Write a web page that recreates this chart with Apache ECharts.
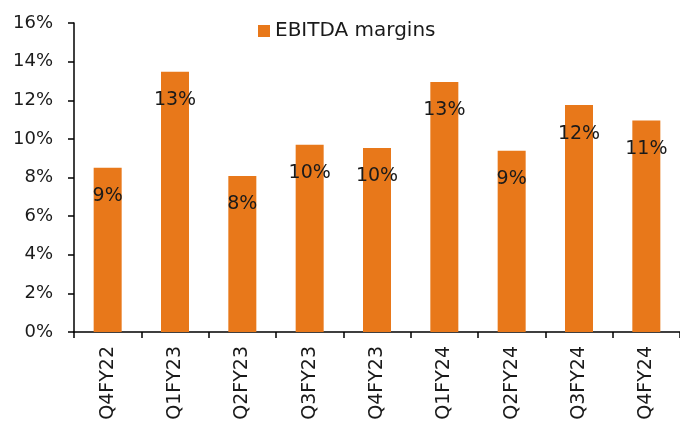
<!DOCTYPE html>
<html>
<head>
<meta charset="utf-8">
<script src="https://cdn.jsdelivr.net/npm/echarts@6/dist/echarts.min.js"></script>
<style>html,body{margin:0;padding:0;background:#fff}#c{width:680px;height:425px}</style>
</head>
<body>
<div id="c"></div>
<script>
var categories = ["Q4FY22","Q1FY23","Q2FY23","Q3FY23","Q4FY23","Q1FY24","Q2FY24","Q3FY24","Q4FY24"];
var ebitdaMargins = [8.5, 13.47, 8.08, 9.69, 9.53, 12.95, 9.38, 11.75, 10.95];
var seriesName = "EBITDA margins";

var FONT = "DejaVu Sans";
var chart = echarts.init(document.getElementById('c'), null, {renderer: 'canvas'});
chart.setOption({
  animation: false,
  textStyle: {fontFamily: FONT, color: '#1a1a1a'},
  legend: {
    data: [seriesName],
    top: 16,
    left: 253,
    itemWidth: 12,
    itemHeight: 12,
    itemGap: 7,
    icon: 'rect',
    textStyle: {fontFamily: FONT, fontSize: 20, color: '#1a1a1a'}
  },
  grid: {left: 74, right: 0, top: 23, bottom: 93, containLabel: false},
  xAxis: {
    type: 'category',
    data: categories,
    axisLine: {lineStyle: {color: '#000', width: 1.5}},
    axisTick: {show: true, alignWithLabel: false, length: 6, lineStyle: {color: '#000', width: 1.5}},
    axisLabel: {rotate: 90, margin: 14, fontSize: 19, color: '#1a1a1a', fontFamily: FONT}
  },
  yAxis: {
    type: 'value',
    min: 0, max: 16, interval: 2,
    splitLine: {show: false},
    axisLine: {show: true, lineStyle: {color: '#000', width: 1.5}},
    axisTick: {show: true, length: 6, lineStyle: {color: '#000', width: 1.5}},
    axisLabel: {formatter: '{value}%', fontSize: 18, margin: 21, color: '#1a1a1a', fontFamily: FONT}
  },
  series: [{
    name: seriesName,
    type: 'bar',
    data: ebitdaMargins,
    barWidth: 28,
    itemStyle: {color: '#E8781A'},
    label: {
      show: true,
      position: 'insideTop',
      distance: 19,
      fontSize: 19,
      color: '#1a1a1a',
      fontFamily: FONT,
      formatter: function(p){ return Math.round(p.value) + '%'; }
    }
  }]
});
</script>
</body>
</html>
